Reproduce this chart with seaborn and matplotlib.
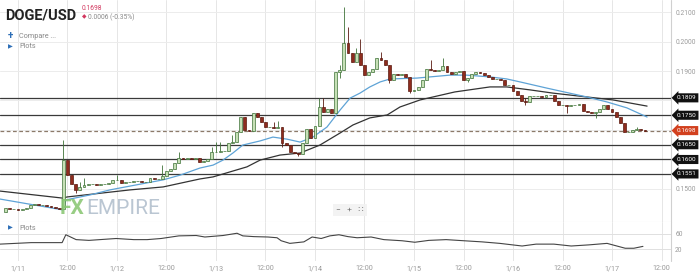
import matplotlib
matplotlib.use("Agg")
import matplotlib.pyplot as plt
import matplotlib.transforms as mtransforms
import seaborn as sns

# ---------------- data ----------------
# hourly candles, hour 0 = 1/11 00:00
hours = list(range(-3, 153))
first_open = 0.1422
closes = [
    0.1436, 0.1432, 0.1432, 0.1429, 0.1432, 0.1436, 0.1446, 0.1449, 0.1446, 0.1446, 0.1442, 0.1439, 0.1436, 0.1432,
    0.1598, 0.1547, 0.1517, 0.1497, 0.1507, 0.1514, 0.1517, 0.1517, 0.1514, 0.1517, 0.1517, 0.1520,
    0.1531, 0.1531, 0.1520, 0.1524, 0.1524, 0.1527, 0.1527, 0.1524, 0.1524, 0.1537, 0.1534, 0.1534,
    0.1544, 0.1561, 0.1568, 0.1588, 0.1605, 0.1602, 0.1605, 0.1602, 0.1605, 0.1592, 0.1595, 0.1602,
    0.1625, 0.1625, 0.1629, 0.1629, 0.1656, 0.1659, 0.1693, 0.1744, 0.1700, 0.1697, 0.1758, 0.1744,
    0.1727, 0.1710, 0.1710, 0.1707, 0.1710, 0.1656, 0.1649, 0.1625, 0.1622, 0.1619, 0.1656, 0.1703,
    0.1673, 0.1714, 0.1778, 0.1761, 0.1771, 0.1758, 0.1897, 0.1903, 0.1995, 0.1961, 0.1931, 0.1961,
    0.1920, 0.1886, 0.1897, 0.1907, 0.1944, 0.1937, 0.1920, 0.1869, 0.1890, 0.1886, 0.1890, 0.1880,
    0.1832, 0.1836, 0.1846, 0.1869, 0.1907, 0.1903, 0.1900, 0.1903, 0.1917, 0.1897, 0.1890, 0.1897,
    0.1900, 0.1869, 0.1876, 0.1890, 0.1897, 0.1893, 0.1886, 0.1880, 0.1873, 0.1873, 0.1869, 0.1853,
    0.1853, 0.1832, 0.1819, 0.1798, 0.1795, 0.1815, 0.1815, 0.1815, 0.1812, 0.1819, 0.1819, 0.1798,
    0.1785, 0.1785, 0.1781, 0.1785, 0.1785, 0.1788, 0.1764, 0.1761, 0.1758, 0.1761, 0.1771, 0.1785,
    0.1771, 0.1761, 0.1744, 0.1724, 0.1693, 0.1693, 0.1700, 0.1703, 0.1700, 0.1698,
]
wick_highs = {11: 0.1666, 15: 0.1524, 16: 0.1537, 24: 0.1547, 35: 0.1581, 39: 0.1625, 47: 0.1642,
              48: 0.1659, 49: 0.1659, 52: 0.1683, 62: 0.1727, 63: 0.1730, 73: 0.1808, 74: 0.1808,
              78: 0.1920, 79: 0.2117, 80: 0.2049, 82: 0.1978, 83: 0.2008, 88: 0.1964, 100: 0.1937,
              103: 0.1944, 123: 0.1808, 150: 0.1710}
wick_lows = {14: 0.1486, 64: 0.1642, 68: 0.1612, 78: 0.1876, 90: 0.1859, 95: 0.1825, 109: 0.1863,
             123: 0.1785, 133: 0.1758, 140: 0.1741}

fast_ma_h = [-4.4, 10.9, 11.6, 17.5, 22.3, 27.2, 35.2, 39.3, 44.1, 47.3, 49.7, 52.1, 54.5, 58.7, 61.8,
             65.2, 68.4, 71.5, 74.9, 78.1, 80.5, 82.9, 85.3, 87.8, 90.2, 96.7, 104.7, 108.8, 114.4,
             118.5, 121.7, 128.2, 137.9, 142.8, 147.6, 152.5]
fast_ma_v = [0.1466, 0.1429, 0.1463, 0.1480, 0.1497, 0.1510, 0.1531, 0.1547, 0.1571, 0.1581, 0.1598,
             0.1622, 0.1649, 0.1663, 0.1676, 0.1669, 0.1659, 0.1676, 0.1710, 0.1768, 0.1808, 0.1825,
             0.1846, 0.1863, 0.1873, 0.1876, 0.1886, 0.1886, 0.1880, 0.1873, 0.1863, 0.1842, 0.1812,
             0.1795, 0.1775, 0.1744]
slow_ma_h = [-4.4, 10.9, 11.9, 27.2, 35.2, 44.1, 47.3, 55.5, 58.7, 63.5, 68.4, 73.2, 78.1, 81.2, 85.3,
             89.5, 92.6, 97.5, 105.9, 114.4, 118.5, 124.1, 129.7, 137.9, 144.2, 152.5]
slow_ma_v = [0.1493, 0.1469, 0.1473, 0.1497, 0.1507, 0.1534, 0.1541, 0.1575, 0.1598, 0.1615, 0.1622,
             0.1649, 0.1690, 0.1717, 0.1741, 0.1751, 0.1778, 0.1802, 0.1829, 0.1846, 0.1846, 0.1836,
             0.1825, 0.1812, 0.1802, 0.1781]

osc_h = [-4.4, 3.2, 10.7, 11.6, 14.1, 17.2, 23.8, 28.1, 31.3, 34.7, 39.0, 43.2, 45.3, 49.7, 53.1, 54.5,
         57.2, 60.6, 62.8, 63.8, 65.9, 69.3, 71.3, 73.5, 75.6, 77.8, 80.0, 82.2, 85.6, 88.7, 93.1, 96.2,
         99.6, 103.8, 108.1, 112.5, 116.8, 122.2, 125.6, 129.9, 134.1, 138.4, 142.8, 147.2, 149.3, 151.5]
osc_v = [33, 37, 37, 58, 45, 43, 48, 45, 45, 48, 55, 56, 52, 56, 62, 55, 53, 52, 50, 42, 35, 39, 52, 48,
         55, 58, 53, 50, 52, 45, 42, 38, 43, 45, 42, 39, 35, 28, 33, 33, 28, 31, 35, 22, 22, 27]

level_lines = [0.1809, 0.1750, 0.1650, 0.1600, 0.1551]
last_price = 0.1698
price_ticks = [0.15, 0.16, 0.17, 0.18, 0.19, 0.20, 0.21]
# labels at 0.16 / 0.17 / 0.18 are hidden behind the price tags in the reference
price_tick_labels = ["0.1500", "", "", "", "0.1900", "0.2000", "0.2100"]
osc_ticks = [20, 60]
x_tick_hours = [0, 12, 24, 36, 48, 60, 72, 84, 96, 108, 120, 132, 144, 156]
x_tick_labels = ["1/11", "12:00", "1/12", "12:00", "1/13", "12:00", "1/14", "12:00",
                 "1/15", "12:00", "1/16", "12:00", "1/17", "12:00"]

# ---------------- style ----------------
sns.set_theme(style="white")
plt.rcParams["font.family"] = ["Roboto", "DejaVu Sans"]

W, H = 700, 279
fig = plt.figure(figsize=(7.0, 2.79), dpi=100)
fig.patch.set_facecolor("white")

def fy(py):
    return 1 - py / H

right_px = 671
ax = fig.add_axes([0, fy(222), right_px / W, 222 / H])
ax2 = fig.add_axes([0, fy(261), right_px / W, 39 / H])

xmin, xmax = -4.36, 158.3
for a in (ax, ax2):
    a.set_facecolor("white")
    a.set_xlim(xmin, xmax)
    for s in a.spines.values():
        s.set_visible(False)
    a.set_xticks(x_tick_hours)
    a.grid(axis="x", color="#e6e6e6", lw=0.7)
    a.axvline(xmax, color="#d0d0d0", lw=0.8, clip_on=False)

ax.set_ylim(0.13881, 0.21407)
ax.yaxis.tick_right()
ax.set_yticks(price_ticks)
ax.set_yticklabels(price_tick_labels)
ax.tick_params(axis="y", length=0, pad=3, labelsize=4.8, labelcolor="#9a9a9a")
ax.tick_params(axis="x", length=0, labelbottom=False)
ax.grid(axis="y", color="#ececec", lw=0.7)

ax2.set_ylim(-12, 92)
ax2.yaxis.tick_right()
ax2.set_yticks(osc_ticks)
ax2.tick_params(axis="y", length=0, pad=3, labelsize=4.8, labelcolor="#9a9a9a")
ax2.grid(axis="y", color="#e0e0e0", lw=0.7)
ax2.set_xticklabels(x_tick_labels)
ax2.tick_params(axis="x", length=0, pad=3, labelsize=5.2, labelcolor="#9a9a9a")
ax.axhline(ax.get_ylim()[0], color="#e3e3e3", lw=0.8)

# level lines
for lv in level_lines:
    ax.axhline(lv, color="#3a3a3a", lw=0.9, zorder=2)
ax.axhline(last_price, color="#8c7a6a", lw=0.9, ls=(0, (3, 2)), zorder=2)

# moving averages
sns.lineplot(x=slow_ma_h, y=slow_ma_v, ax=ax, color="#333333", lw=0.9, zorder=3)
sns.lineplot(x=fast_ma_h, y=fast_ma_v, ax=ax, color="#5ea3d6", lw=0.9, zorder=3)

# candles
opens = [first_open] + closes[:-1]
up_fill, up_edge = "#c6e0b6", "#3f7238"
dn_fill, dn_edge = "#8e2c1e", "#5a1a10"
bottoms, heights, fills, edges, his, los = [], [], [], [], [], []
for h, o, c in zip(hours, opens, closes):
    lo_b, hi_b = min(o, c), max(o, c)
    bottoms.append(lo_b)
    heights.append(max(hi_b - lo_b, 0.00006))
    up = c >= o
    fills.append(up_fill if up else dn_fill)
    edges.append(up_edge if up else dn_edge)
    his.append(wick_highs.get(h, hi_b))
    los.append(wick_lows.get(h, lo_b))
ax.vlines(hours, los, his, colors=edges, lw=0.6, zorder=4)
ax.bar(hours, heights, bottom=bottoms, width=0.72, color=fills, edgecolor=edges, linewidth=0.5, zorder=5)

# oscillator
sns.lineplot(x=osc_h, y=osc_v, ax=ax2, color="#444444", lw=0.8)
ax.set_xlabel(""); ax.set_ylabel(""); ax2.set_xlabel(""); ax2.set_ylabel("")

# price tags
trans = mtransforms.blended_transform_factory(ax.transAxes, ax.transData)
def tag(level, color):
    ax.text(1.0085, level, f"{level:.4f}", transform=trans, ha="left", va="center",
            fontsize=4.6, color="white", zorder=10, clip_on=False,
            bbox=dict(boxstyle="larrow,pad=0.32", fc=color, ec="none"))
for lv in level_lines:
    tag(lv, "#111111")
tag(last_price, "#d2401e")

# header overlays
fig.text(5 / W, fy(16), "DOGE/USD", fontsize=10.5, fontweight="bold", color="#222222",
         va="center", ha="left")
fig.text(82 / W, fy(8), "0.1698", fontsize=4.8, color="#d2385f", va="center")
fig.text(82 / W, fy(17), "◆", fontsize=4.2, color="#d2385f", va="center")
fig.text(88 / W, fy(17), "0.0006 (-0.35%)", fontsize=4.8, color="#888888", va="center")
fig.text(8 / W, fy(36), "+", fontsize=7, color="#2e6fb7", va="center", fontweight="bold")
fig.text(19 / W, fy(36), "Compare ...", fontsize=5.2, color="#888888", va="center")
for py in (47, 228):
    fig.text(8 / W, fy(py), "▶", fontsize=4.5, color="#2e6fb7", va="center")
    fig.text(19 / W, fy(py), "Plots", fontsize=5.2, color="#888888", va="center")

# watermark
fig.text(60 / W, fy(209), "FX", fontsize=15, fontweight="bold", color="#86c56f", alpha=0.85, va="center")
fig.text(86 / W, fy(209), "EMPIRE", fontsize=15, color="#aebccb", alpha=0.85, va="center")

# zoom controls
fig.text(350 / W, fy(210), "−   +   ∷", fontsize=6, color="#777777", va="center", ha="center",
         bbox=dict(boxstyle="square,pad=0.4", fc="#f2f2f2", ec="none", alpha=0.9))

fig.savefig("out.png", dpi=100, facecolor="white")
